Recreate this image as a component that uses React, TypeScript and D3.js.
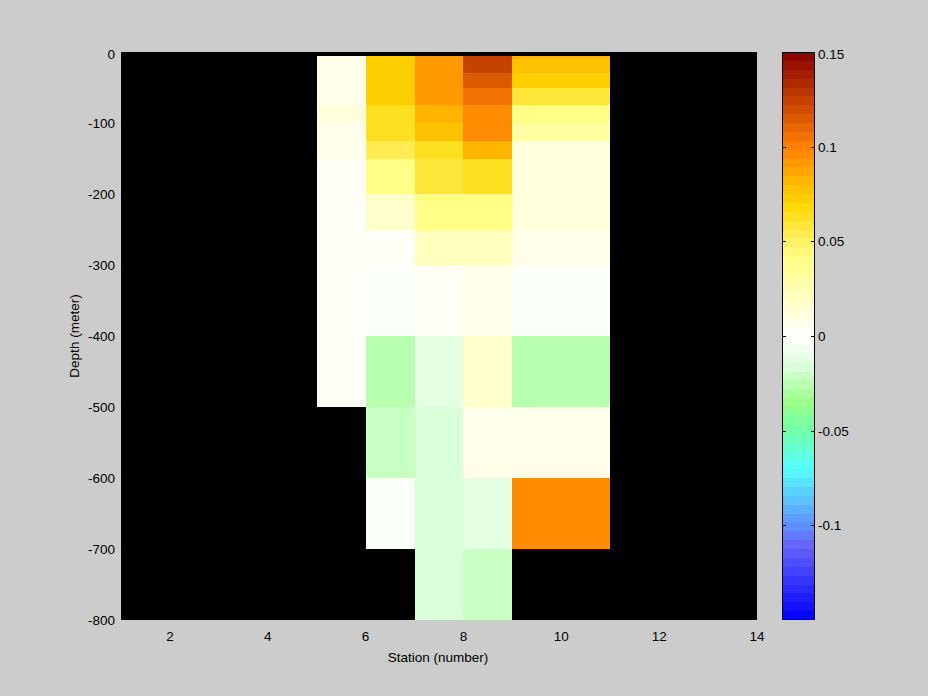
import React from "react";
import * as d3 from "d3";

// Station column edges (each column spans [x0, x1])
const stationEdges: [number, number][] = [
  [5, 6],
  [6, 7],
  [7, 8],
  [8, 9],
  [9, 11],
];

// Depth levels (meters, positive down)
const depthLevels = [5, 10, 20, 30, 50, 75, 100, 125, 150, 200, 250, 300, 400, 500, 600, 700, 800];

const NaN_ = NaN;
// Values per column, for each depth interval between consecutive depthLevels (16 intervals)
const col5to6 = [0.0057, 0.0057, 0.0057, 0.0057, 0.0057, 0.0114, 0.0057, 0.0057, 0.0034, 0.0034, 0.0034, 0.0034, 0.0034, NaN_, NaN_, NaN_];
const col6to7 = [0.072, 0.072, 0.072, 0.072, 0.072, 0.0645, 0.063, 0.054, 0.04, 0.016, 0.0034, -0.003, -0.0235, -0.022, -0.002, NaN_];
const col7to8 = [0.0915, 0.0915, 0.0915, 0.0915, 0.09, 0.081, 0.078, 0.0645, 0.058, 0.038, 0.021, 0.0034, -0.01, -0.015, -0.015, -0.015];
const col8to9 = [0.1225, 0.1225, 0.1225, 0.117, 0.106, 0.098, 0.098, 0.081, 0.063, 0.04, 0.021, 0.0087, 0.016, 0.007, -0.01, -0.022];
const col9to11 = [0.081, 0.079, 0.075, 0.072, 0.058, 0.04, 0.0286, 0.0114, 0.0114, 0.0114, 0.0087, -0.003, -0.026, 0.007, 0.098, NaN_];
const columnValues = [col5to6, col6to7, col7to8, col8to9, col9to11];

const xTicks = [2, 4, 6, 8, 10, 12, 14];
const yTicks = [0, -100, -200, -300, -400, -500, -600, -700, -800];
const cbTicks = [0.15, 0.1, 0.05, 0, -0.05, -0.1];
const cbTickLabels = ["0.15", "0.1", "0.05", "0", "-0.05", "-0.1"];

// colormap anchors (value, colour)
const cmapValues = [0.15, 0.1, 0.08, 0.07, 0.05, 0.04, 0, -0.015, -0.035, -0.05, -0.07, -0.1, -0.11, -0.15];
const cmapColors = ["#880000", "#FF8000", "#FFBB00", "#FFD500", "#FFF266", "#FFFF88", "#FFFFFF", "#DDFFDD", "#99FF88", "#70FFAA", "#55FFFF", "#6090FF", "#6666FF", "#0000FF"];
const NLEVELS = 64;
const CMIN = -0.15;
const CMAX = 0.15;

const W = 928;
const H = 696;
const PX0 = 121, PX1 = 757, PY0 = 52, PY1 = 620;
const CBX0 = 782, CBX1 = 815;
const FONT = "'Liberation Sans', Arial, Helvetica, sans-serif";
const FS = 13.5;

export default function App() {
  const xs = d3.scaleLinear().domain([1, 14]).range([PX0, PX1]);
  const ys = d3.scaleLinear().domain([0, -800]).range([PY0, PY1]);
  const cs = d3.scaleLinear().domain([CMIN, CMAX]).range([PY1, PY0]);

  const interp = d3
    .scaleLinear<string>()
    .domain(cmapValues)
    .range(cmapColors)
    .interpolate(d3.interpolateRgb)
    .clamp(true);
  const step = (CMAX - CMIN) / NLEVELS;
  const bands = d3.range(NLEVELS).map((k) => {
    const lo = CMIN + k * step;
    const hi = lo + step;
    return { lo, hi, color: d3.color(interp((lo + hi) / 2))!.formatHex() };
  });
  const colorOf = (v: number) => {
    let k = Math.floor((v - CMIN) / step);
    k = Math.max(0, Math.min(NLEVELS - 1, k));
    return bands[k].color;
  };

  const cells: { x: number; y: number; w: number; h: number; c: string }[] = [];
  stationEdges.forEach(([x0, x1], ci) => {
    const vals = columnValues[ci];
    for (let i = 0; i < depthLevels.length - 1; i++) {
      const v = vals[i];
      if (isNaN(v)) continue;
      const ya = ys(-depthLevels[i]);
      const yb = ys(-depthLevels[i + 1]);
      cells.push({ x: xs(x0), y: ya, w: xs(x1) - xs(x0), h: yb - ya, c: colorOf(v) });
    }
  });

  return (
    <svg width={W} height={H} style={{ position: "absolute", left: 0, top: 0 }} fontFamily={FONT}>
      <rect x={0} y={0} width={W} height={H} fill="#CCCCCC" />
      <rect x={PX0} y={PY0} width={PX1 - PX0} height={PY1 - PY0} fill="#000000" />
      <g shapeRendering="crispEdges">
        {cells.map((c, i) => (
          <rect key={i} x={c.x} y={c.y} width={c.w} height={c.h} fill={c.c} />
        ))}
      </g>
      {/* x tick labels */}
      {xTicks.map((t) => (
        <text key={t} x={xs(t)} y={641} fontSize={FS} textAnchor="middle" fill="#000">
          {t}
        </text>
      ))}
      {/* y tick labels */}
      {yTicks.map((t) => (
        <text key={t} x={115} y={Math.max(ys(t) + 5, 59)} fontSize={FS} textAnchor="end" fill="#000">
          {t}
        </text>
      ))}
      <text x={438} y={662} fontSize={FS} textAnchor="middle" fill="#000">
        Station (number)
      </text>
      <text
        transform={`translate(79, ${(PY0 + PY1) / 2}) rotate(-90)`}
        fontSize={FS}
        textAnchor="middle"
        fill="#000"
      >
        Depth (meter)
      </text>
      {/* colorbar */}
      <g shapeRendering="crispEdges">
        {bands.map((b, i) => (
          <rect key={i} x={CBX0} y={cs(b.hi)} width={CBX1 - CBX0} height={cs(b.lo) - cs(b.hi)} fill={b.color} />
        ))}
        <rect x={CBX0 + 0.5} y={PY0 + 0.5} width={CBX1 - CBX0 - 1} height={PY1 - PY0 - 1} fill="none" stroke="#000" />
        {cbTicks.map((t) => (
          <g key={t}>
            <line x1={CBX0} x2={CBX0 + 4} y1={Math.round(cs(t)) + 0.5} y2={Math.round(cs(t)) + 0.5} stroke="#000" />
            <line x1={CBX1 - 4} x2={CBX1} y1={Math.round(cs(t)) + 0.5} y2={Math.round(cs(t)) + 0.5} stroke="#000" />
          </g>
        ))}
      </g>
      {cbTicks.map((t, i) => (
        <text key={t} x={818} y={Math.max(cs(t) + 5, 59)} fontSize={FS} textAnchor="start" fill="#000">
          {cbTickLabels[i]}
        </text>
      ))}
    </svg>
  );
}
